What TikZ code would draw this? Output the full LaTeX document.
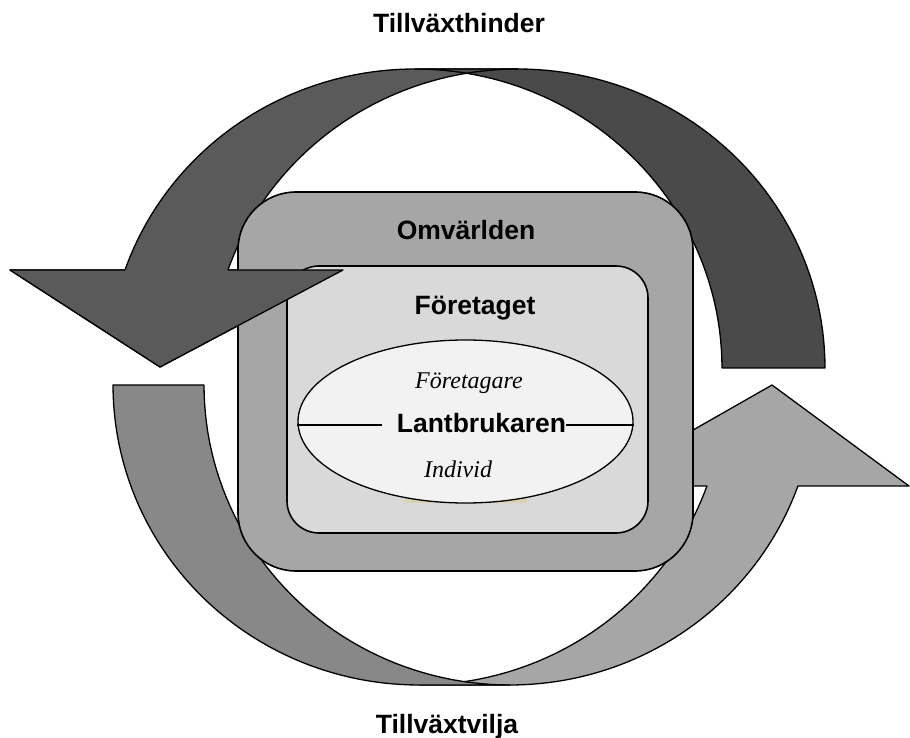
\documentclass[tikz,border=0pt]{standalone}
\usepackage{fontspec}
\setmainfont{Liberation Serif}
\setsansfont{Liberation Sans}
\usetikzlibrary{shapes.geometric}
\definecolor{topfront}{HTML}{5A5A5A}
\definecolor{topshade}{HTML}{4A4A4A}
\definecolor{botfront}{HTML}{A6A6A6}
\definecolor{botshade}{HTML}{888888}
\definecolor{outerbox}{HTML}{A6A6A6}
\definecolor{innerbox}{HTML}{D9D9D9}
\definecolor{ellfill}{HTML}{F2F2F2}
\definecolor{tanstrip}{RGB}{218,210,176}
\begin{document}
\begin{tikzpicture}[x=1pt,y=1pt,
  arrowline/.style={draw=black, line width=1.3pt, line join=round},
  boxline/.style={draw=black, line width=1.6pt},
  midline/.style={draw=black, line width=1.3pt},
  boldlbl/.style={font=\sffamily\bfseries\fontsize{26.5}{30}\selectfont, inner sep=0pt, anchor=base},
  itlbl/.style={font=\rmfamily\itshape\fontsize{24}{28}\selectfont, inner sep=0pt, anchor=base}]
\useasboundingbox (0,0) rectangle (910,737);

% ---- top arrow (Tillväxthinder): front band with head, then shaded tail
\path[fill=topfront, arrowline] (124.9,467)
  -- plot[domain=160.87:90, samples=50] ({415+307*cos(\x)},{369+299*sin(\x)})
  -- (518,668)
  -- plot[domain=90:160.87, samples=50] ({518+307*cos(\x)},{369+299*sin(\x)})
  -- (343,467) -- (160,370) -- (10,467) -- cycle;
\path[fill=topshade, arrowline] (825,369)
  -- plot[domain=0:90, samples=50] ({518+307*cos(\x)},{369+299*sin(\x)})
  -- (415,668)
  -- plot[domain=90:0, samples=50] ({415+307*cos(\x)},{369+299*sin(\x)})
  -- cycle;
\draw[arrowline] plot[domain=100:90, samples=10] ({518+307*cos(\x)},{369+299*sin(\x)});

% ---- bottom arrow (Tillväxtvilja): front band with head, then shaded tail
\path[fill=botfront, arrowline] (509.9,52)
  -- plot[domain=270:340.33, samples=50] ({509.9+305.9*cos(\x)},{352+300*sin(\x)})
  -- (909,251) -- (772,352) -- (595,251)
  -- plot[domain=340.33:270, samples=50] ({418.9+305.9*cos(\x)},{352+300*sin(\x)})
  -- cycle;
\path[fill=botshade, arrowline] (113,352)
  -- plot[domain=180:270, samples=50] ({418.9+305.9*cos(\x)},{352+300*sin(\x)})
  -- (509.9,52)
  -- plot[domain=270:180, samples=50] ({509.9+305.9*cos(\x)},{352+300*sin(\x)})
  -- cycle;

% ---- boxes
\node[boxline, fill=outerbox, rectangle, rounded corners=58pt,
      minimum width=455pt, minimum height=379pt, inner sep=0pt] (omv) at (465.5,355.5) {};
\node[boxline, fill=innerbox, rectangle, rounded corners=32pt,
      minimum width=361pt, minimum height=267pt, inner sep=0pt] (foretaget) at (467.5,337.5) {};

% faint strip under the ellipse
\fill[tanstrip] (404,234) rectangle (527,238.5);

\node[ellipse, draw=black, line width=1.3pt, fill=ellfill,
      minimum width=335pt, minimum height=163pt, inner sep=0pt] (ell) at (465.5,315.5) {};

% ---- top arrow head drawn over the boxes
\fill[topfront] (10,467) -- (343,467) -- (160,370) -- cycle;
\draw[arrowline] (228,467) -- (343,467) -- (160,370) -- (10,467) -- (124.9,467);

% ---- labels
\node[boldlbl] (hinder) at (459,704) {Tillväxthinder};
\node[boldlbl] (vilja) at (447,4) {Tillväxtvilja};
\node[boldlbl] (omvlbl) at (466,497) {Omvärlden};
\node[boldlbl] (forlbl) at (475,422) {Företaget};
\node[boldlbl] (lant) at (481.5,305) {Lantbrukaren};
\node[itlbl] (fgare) at (469,348) {Företagare};
\node[itlbl] (indiv) at (458,260) {Individ};

\coordinate (lineL) at (382,312);
\coordinate (lineR) at (566,312);
\draw[midline] (ell.west |- lineL) -- (lineL);
\draw[midline] (lineR) -- (ell.east |- lineR);
\end{tikzpicture}
\end{document}
